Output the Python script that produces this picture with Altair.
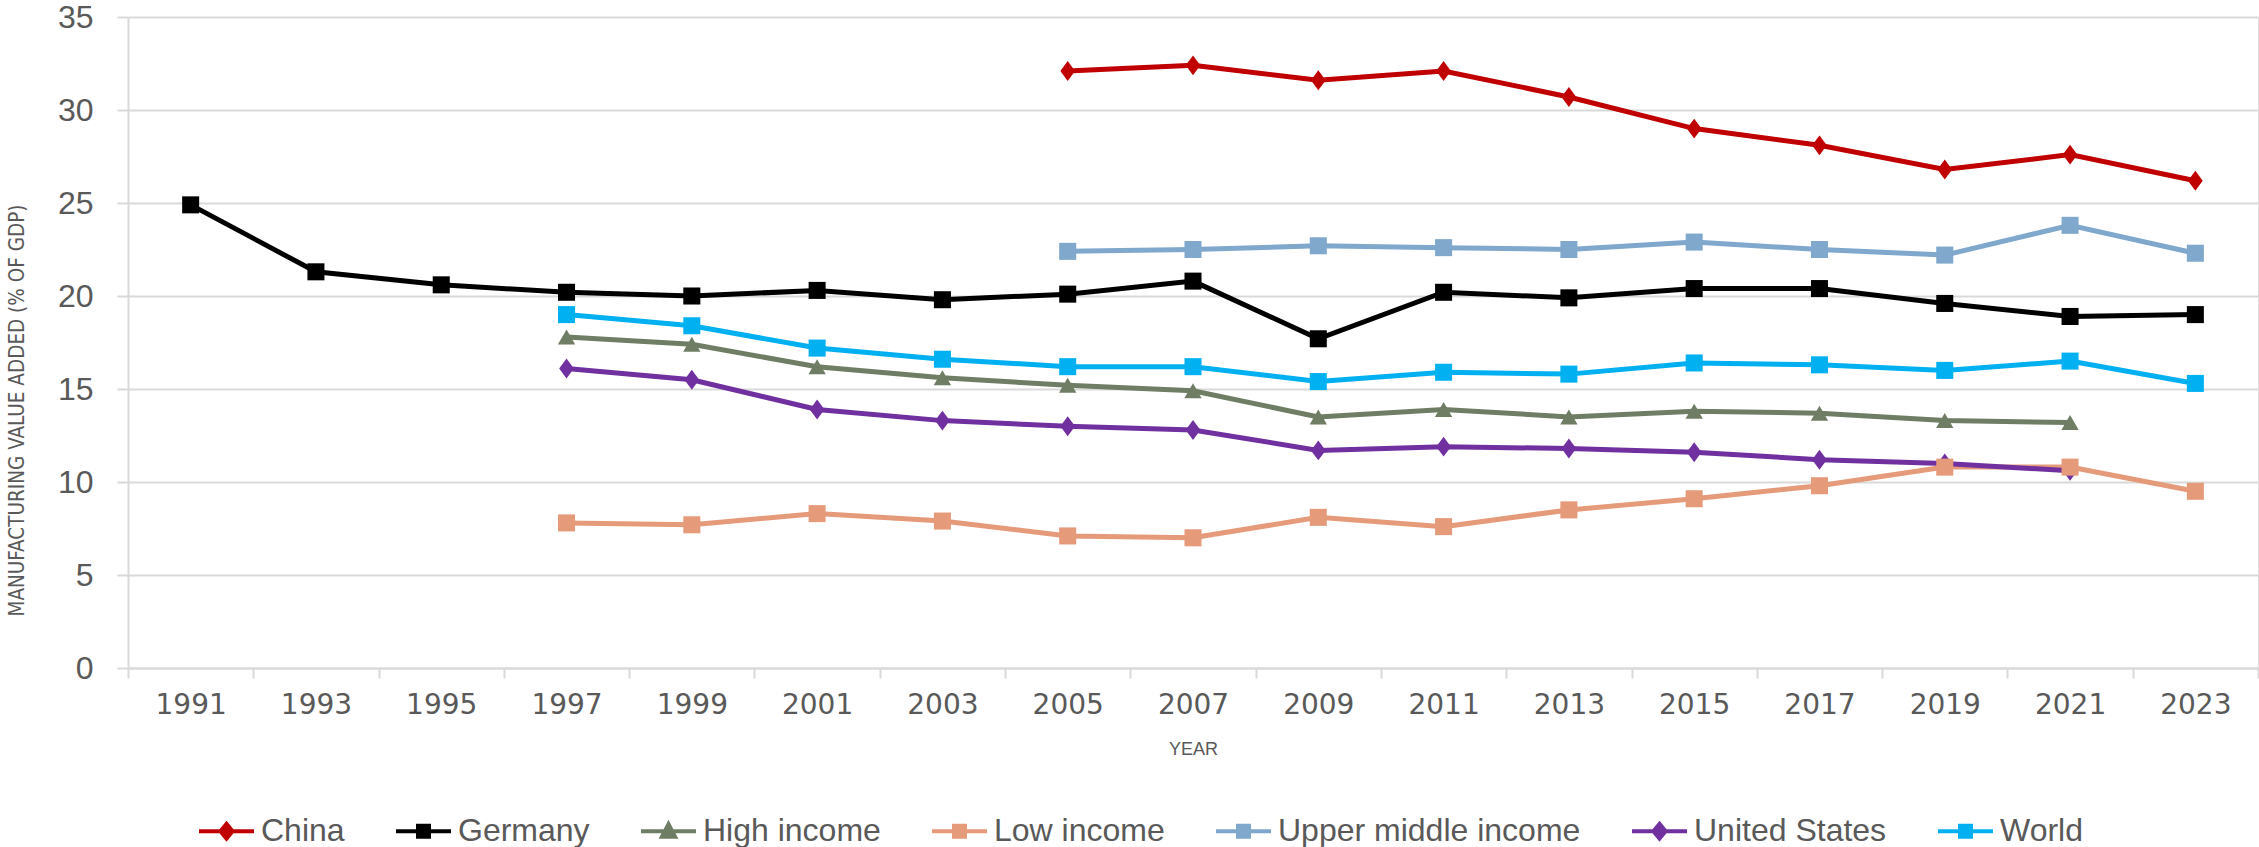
import altair as alt
import pandas as pd

years = [1991, 1993, 1995, 1997, 1999, 2001, 2003, 2005, 2007, 2009, 2011, 2013, 2015, 2017, 2019, 2021, 2023]
series_names = ["China", "Germany", "High income", "Low income", "Upper middle income", "United States", "World"]
colors = ["#C00000", "#000000", "#6E7D64", "#E59A7A", "#7FA8CC", "#7030A0", "#00B0F0"]
diamond_series = ["China", "United States"]
square_series = ["Germany", "Low income", "Upper middle income", "World"]
triangle_series = ["High income"]

N = None
china = [N, N, N, N, N, N, N, 32.1, 32.4, 31.6, 32.1, 30.7, 29.0, 28.1, 26.8, 27.6, 26.2]
germany = [24.9, 21.3, 20.6, 20.2, 20.0, 20.3, 19.8, 20.1, 20.8, 17.7, 20.2, 19.9, 20.4, 20.4, 19.6, 18.9, 19.0]
high_income = [N, N, N, 17.8, 17.4, 16.2, 15.6, 15.2, 14.9, 13.5, 13.9, 13.5, 13.8, 13.7, 13.3, 13.2, N]
low_income = [N, N, N, 7.8, 7.7, 8.3, 7.9, 7.1, 7.0, 8.1, 7.6, 8.5, 9.1, 9.8, 10.8, 10.8, 9.5]
upper_middle = [N, N, N, N, N, N, N, 22.4, 22.5, 22.7, 22.6, 22.5, 22.9, 22.5, 22.2, 23.8, 22.3]
united_states = [N, N, N, 16.1, 15.5, 13.9, 13.3, 13.0, 12.8, 11.7, 11.9, 11.8, 11.6, 11.2, 11.0, 10.6, N]
world = [N, N, N, 19.0, 18.4, 17.2, 16.6, 16.2, 16.2, 15.4, 15.9, 15.8, 16.4, 16.3, 16.0, 16.5, 15.3]

all_series = [china, germany, high_income, low_income, upper_middle, united_states, world]

rows = []
for name, vals in zip(series_names, all_series):
    for y, v in zip(years, vals):
        if v is not None:
            rows.append({"year": y, "series": name, "value": v})
df = pd.DataFrame(rows)

# legend symbols: short line with the marker in the middle
leg_line = "M-1,0H1"
leg_diamond = leg_line + "M0,-0.27L0.22,0L0,0.27L-0.22,0Z"
leg_square = leg_line + "M-0.2,-0.2H0.2V0.2H-0.2Z"
leg_triangle = leg_line + "M0,-0.26L0.24,0.2H-0.24Z"
shape_of = {"China": leg_diamond, "United States": leg_diamond, "High income": leg_triangle}
legend_shapes = [shape_of.get(s, leg_square) for s in series_names]

GRAY = "#d9d9d9"
TXT = "#595959"
FONT = "Liberation Sans"

x_enc = alt.X(
    "year:O",
    scale=alt.Scale(type="band", domain=years, paddingInner=0, paddingOuter=0),
    axis=alt.Axis(
        tickBand="extent", labelAngle=0, ticks=True, tickSize=10, tickColor=GRAY, tickWidth=2,
        domainColor=GRAY, domainWidth=2, labelFont="DejaVu Sans", labelFontSize=28, labelColor=TXT,
        labelPadding=13, grid=False,
        title="YEAR", titleFont=FONT, titleFontSize=18, titleFontWeight="normal", titleColor=TXT,
        titleY=81, titleBaseline="middle",
    ),
)
y_enc = alt.Y(
    "value:Q",
    scale=alt.Scale(domain=[0, 35], nice=False),
    axis=alt.Axis(
        values=[0, 5, 10, 15, 20, 25, 30, 35], grid=True, gridColor=GRAY, gridWidth=2,
        domain=True, domainColor=GRAY, domainWidth=2, ticks=True, tickColor=GRAY, tickSize=11, tickWidth=2,
        labelFont=FONT, labelFontSize=32, labelColor=TXT, labelPadding=24,
        title="MANUFACTURING VALUE ADDED  (% OF GDP)",
        titleFont="Liberation Sans Narrow, DejaVu Sans Condensed, sans-serif",
        titleFontSize=20.5, titleFontWeight="normal", titleColor=TXT,
        titleX=-111, titleY=393, titleAlign="center", titleBaseline="middle",
    ),
)

# colour scale for the drawn lines/markers (its own domain order, so its hidden
# legend does not get merged with the visible one below)
color_of = dict(zip(series_names, colors))
color_domain = sorted(series_names)
color_scale = alt.Scale(domain=color_domain, range=[color_of[s] for s in color_domain])
color_enc = alt.Color("series:N", scale=color_scale, legend=None)

base = alt.Chart(df)

lines = base.mark_line(strokeWidth=5).encode(x=x_enc, y=y_enc, color=color_enc, detail="series:N")

pts_diamond = base.transform_filter(
    alt.FieldOneOfPredicate(field="series", oneOf=diamond_series)
).mark_point(filled=True, opacity=1, size=300, shape="M0,-1.15L0.85,0L0,1.15L-0.85,0Z").encode(
    x=x_enc, y=y_enc, color=color_enc)
pts_square = base.transform_filter(
    alt.FieldOneOfPredicate(field="series", oneOf=square_series)
).mark_point(filled=True, opacity=1, size=290, shape="square").encode(
    x=x_enc, y=y_enc, color=color_enc)
pts_triangle = base.transform_filter(
    alt.FieldOneOfPredicate(field="series", oneOf=triangle_series)
).mark_point(filled=True, opacity=1, size=300, shape="triangle-up").encode(
    x=x_enc, y=y_enc, color=color_enc)

legend_def = alt.Legend(
    orient="none", direction="horizontal", columns=7, legendX=69, legendY=784.5,
    title=None, padding=0, columnPadding=43, labelOffset=5, labelLimit=0,
    symbolSize=3025, symbolStrokeWidth=4, symbolOpacity=1,
    labelFont=FONT, labelFontSize=32, labelColor=TXT,
)

# legend-only layer: its rows are filtered out, so it draws nothing in the plot
legend_layer = base.transform_filter("datum.value < 0").mark_point(filled=True, size=3025).encode(
    x=x_enc, y=y_enc,
    shape=alt.Shape("series:N", scale=alt.Scale(domain=series_names, range=legend_shapes), legend=legend_def),
    fill=alt.Fill("series:N", scale=alt.Scale(domain=series_names, range=colors), legend=legend_def),
    stroke=alt.Stroke("series:N", scale=alt.Scale(domain=series_names, range=colors), legend=legend_def),
)

chart = alt.layer(lines, pts_diamond, pts_square, pts_triangle, legend_layer).properties(
    width=2130, height=651,
    autosize=alt.AutoSizeParams(type="none"),
    padding={"left": 128, "top": 17, "right": 1, "bottom": 179},
).configure_view(stroke=None).configure(background="white")

chart.save("out.html", embed_options={"renderer": "svg", "actions": False})
